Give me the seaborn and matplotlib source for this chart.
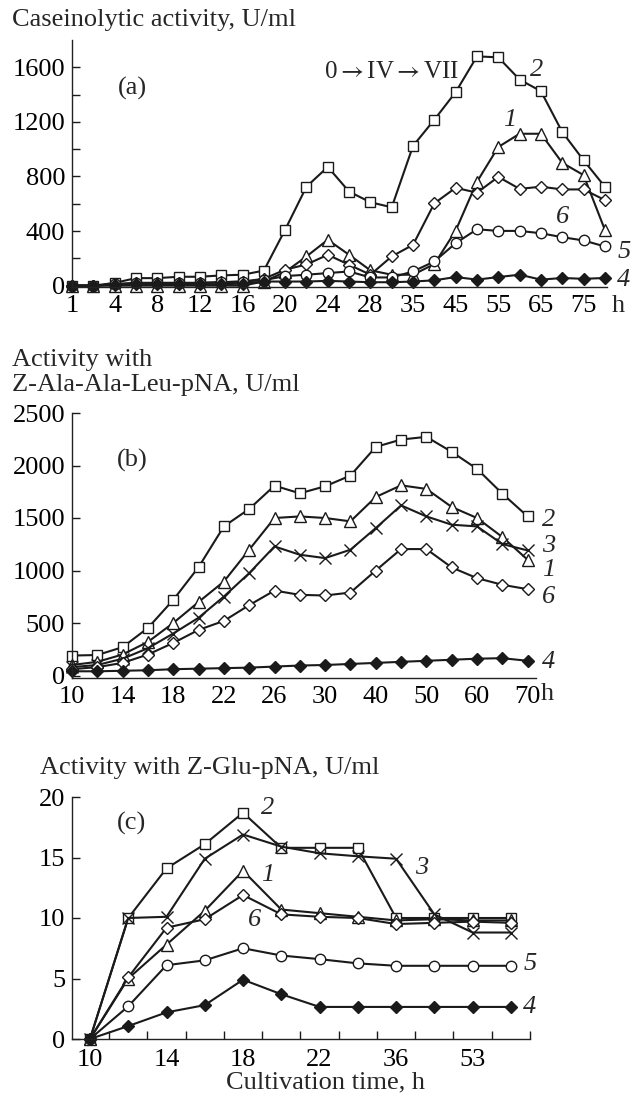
import matplotlib
matplotlib.use("Agg")
import matplotlib.pyplot as plt
import seaborn as sns
import numpy as np
import pandas as pd

# ---------------- data ----------------
# Panel (a): caseinolytic activity, U/ml
a_hours = [1, 2, 4, 6, 8, 10, 12, 14, 16, 18, 20, 22, 24, 26, 28, 30, 35, 40, 45, 50, 55, 60, 65, 70, 75, 80]
a_ticklabels = ["1", "4", "8", "12", "16", "20", "24", "28", "35", "45", "55", "65", "75"]
a_s2 = [0, 0, 20, 55, 55, 65, 65, 75, 80, 110, 410, 725, 870, 689, 611, 574, 1024, 1216, 1418, 1680, 1673, 1510, 1425, 1126, 919, 725]
a_s1 = [0, 0, 0, 0, 0, 0, 0, 0, 0, 30, 100, 214, 336, 226, 112, 80, 80, 158, 403, 761, 1016, 1113, 1113, 900, 810, 409]
a_s6 = [0, 0, 10, 20, 20, 20, 20, 25, 30, 50, 117, 155, 226, 153, 80, 214, 299, 603, 717, 681, 797, 709, 725, 705, 705, 627]
a_s5 = [0, 0, 10, 20, 20, 20, 20, 25, 30, 40, 70, 80, 92, 104, 60, 60, 104, 177, 311, 413, 401, 401, 384, 355, 331, 287]
a_s4 = [0, 0, 5, 10, 10, 10, 10, 10, 15, 30, 30, 30, 35, 30, 25, 25, 30, 39, 63, 44, 63, 80, 44, 56, 50, 56]

# Panel (b): activity with Z-Ala-Ala-Leu-pNA, U/ml
b_hours = [10, 12, 14, 16, 18, 20, 22, 24, 26, 28, 30, 35, 40, 45, 50, 55, 60, 65, 70]
b_ticklabels = ["10", "14", "18", "22", "26", "30", "40", "50", "60", "70"]
b_s2 = [190, 195, 270, 453, 720, 1032, 1420, 1586, 1808, 1735, 1802, 1904, 2177, 2247, 2273, 2130, 1968, 1732, 1515]
b_s1 = [100, 130, 200, 320, 500, 700, 895, 1198, 1500, 1515, 1500, 1468, 1700, 1811, 1777, 1605, 1500, 1319, 1102]
b_s3 = [80, 100, 160, 260, 400, 550, 752, 975, 1229, 1150, 1118, 1198, 1404, 1620, 1515, 1436, 1420, 1252, 1191]
b_s6 = [60, 80, 120, 200, 310, 434, 520, 670, 809, 768, 762, 790, 1000, 1204, 1204, 1029, 927, 864, 822]
b_s4 = [40, 40, 45, 50, 60, 65, 70, 75, 85, 95, 100, 110, 120, 130, 140, 150, 160, 165, 140]

# Panel (c): activity with Z-Glu-pNA, U/ml
c_hours = [10, 12, 14, 16, 18, 20, 22, 28, 36, 45, 53, 60]
c_ticklabels = ["10", "14", "18", "22", "36", "53"]
c_s2 = [0, 10.0, 14.1, 16.1, 18.7, 15.8, 15.8, 15.8, 10.0, 10.0, 10.0, 10.0]
c_s3 = [0, 10.0, 10.1, 14.9, 16.9, 15.9, 15.35, 15.1, 14.9, 10.3, 8.8, 8.8]
c_s1 = [0, 5.0, 7.8, 10.6, 13.9, 10.7, 10.4, 10.1, 9.8, 9.9, 9.8, 9.8]
c_s6 = [0, 5.1, 9.2, 9.9, 11.9, 10.3, 10.1, 10.0, 9.5, 9.6, 9.7, 9.6]
c_s5 = [0, 2.7, 6.1, 6.5, 7.5, 6.9, 6.6, 6.25, 6.05, 6.05, 6.05, 6.05]
c_s4 = [0, 1.07, 2.2, 2.8, 4.9, 3.7, 2.65, 2.65, 2.65, 2.65, 2.65, 2.65]

# ---------------- style ----------------
sns.set_theme(style="ticks")
serif = ["Liberation Serif", "DejaVu Serif"]
plt.rcParams["font.family"] = serif
plt.rcParams["mathtext.fontset"] = "stix"
plt.rcParams["axes.linewidth"] = 1.0
plt.rcParams["axes.edgecolor"] = "#222222"

W, H = 635, 1100
fig = plt.figure(figsize=(W / 100, H / 100), dpi=100, facecolor="white")

TICK_FS = 19
TITLE_FS = 19
LAB_FS = 19

def px_axes(l, t, r, b):
    return fig.add_axes([l / W, 1 - b / H, (r - l) / W, (b - t) / H])

def ftext(x, y, s, **kw):
    fig.text(x / W, 1 - y / H, s, **kw)

LC = "#1a1a1a"
styles = {
    "s": dict(marker="s", ms=7.5, mfc="white"),
    "^": dict(marker="^", ms=8, mfc="white"),
    "D": dict(marker="D", ms=6.5, mfc="white"),
    "o": dict(marker="o", ms=7.5, mfc="white"),
    "x": dict(marker="x", ms=8),
    "Df": dict(marker="D", ms=6.5, mfc=LC),
}

def draw(ax, values, key):
    df = pd.DataFrame({"x": np.arange(len(values)), "y": values})
    st = styles[key]
    sns.lineplot(data=df, x="x", y="y", ax=ax, color=LC, lw=1.5,
                 marker=st["marker"], markersize=st["ms"],
                 markerfacecolor=st.get("mfc", LC), markeredgecolor=LC,
                 markeredgewidth=1.0, estimator=None, sort=False, legend=False)

def base(ax):
    sns.despine(ax=ax)
    ax.set_xlabel("")
    ax.set_ylabel("")
    ax.set_facecolor("white")
    ax.tick_params(axis="both", which="both", direction="in", colors=LC,
                   labelcolor="black", labelsize=TICK_FS, width=1.0)
    ax.tick_params(axis="y", which="both", length=6, pad=5)

# ---------- panel (a) ----------
axa = px_axes(72, 40, 607, 287)
draw(axa, a_s2, "s")
draw(axa, a_s1, "^")
draw(axa, a_s6, "D")
draw(axa, a_s5, "o")
draw(axa, a_s4, "Df")
base(axa)
axa.set_xlim(0, 25.1)
axa.set_ylim(-10, 1800)
axa.set_yticks([0, 400, 800, 1200, 1600])
axa.set_yticks(np.arange(200, 1800, 400), minor=True)
axa.set_xticks(np.arange(0, 25, 2), a_ticklabels)
axa.tick_params(axis="x", which="both", length=0, pad=6)

ftext(12, 20, "Caseinolytic activity, U/ml", fontsize=TITLE_FS, va="center", ha="left")
ftext(132, 88, "(a)", fontsize=LAB_FS, va="center", ha="center")
ftext(391, 72, "0$\\rightarrow$IV$\\rightarrow$VII", fontsize=18, va="center", ha="center")
ftext(537, 70, "2", fontsize=LAB_FS, style="italic", va="center", ha="center")
ftext(510, 120, "1", fontsize=LAB_FS, style="italic", va="center", ha="center")
ftext(563, 217, "6", fontsize=LAB_FS, style="italic", va="center", ha="center")
ftext(624, 252, "5", fontsize=LAB_FS, style="italic", va="center", ha="center")
ftext(624, 280, "4", fontsize=LAB_FS, style="italic", va="center", ha="center")
ftext(618, 306, "h", fontsize=TICK_FS, va="center", ha="center")

# ---------- panel (b) ----------
axb = px_axes(72, 413, 536, 677.6)
draw(axb, b_s2, "s")
draw(axb, b_s1, "^")
draw(axb, b_s3, "x")
draw(axb, b_s6, "D")
draw(axb, b_s4, "Df")
base(axb)
axb.set_xlim(0, 18.33)
axb.set_ylim(-20, 2500)
axb.set_yticks([0, 500, 1000, 1500, 2000, 2500])
axb.set_xticks(np.arange(0, 19, 2), b_ticklabels)
axb.tick_params(axis="x", which="both", length=0, pad=6)

ftext(12, 360, "Activity with", fontsize=TITLE_FS, va="center", ha="left")
ftext(12, 385, "Z-Ala-Ala-Leu-pNA, U/ml", fontsize=TITLE_FS, va="center", ha="left")
ftext(132, 460, "(b)", fontsize=LAB_FS, va="center", ha="center")
ftext(549, 520, "2", fontsize=LAB_FS, style="italic", va="center", ha="center")
ftext(549, 546, "3", fontsize=LAB_FS, style="italic", va="center", ha="center")
ftext(549, 570, "1", fontsize=LAB_FS, style="italic", va="center", ha="center")
ftext(549, 597, "6", fontsize=LAB_FS, style="italic", va="center", ha="center")
ftext(549, 662, "4", fontsize=LAB_FS, style="italic", va="center", ha="center")
ftext(547, 694, "h", fontsize=TICK_FS, va="center", ha="center")

# ---------- panel (c) ----------
axc = px_axes(72, 797, 530, 1039)
draw(axc, c_s2, "s")
draw(axc, c_s3, "x")
draw(axc, c_s1, "^")
draw(axc, c_s6, "D")
draw(axc, c_s5, "o")
draw(axc, c_s4, "Df")
base(axc)
axc.set_xlim(-0.47, 11.5)
axc.set_ylim(0, 20)
axc.set_yticks([0, 5, 10, 15, 20])
axc.set_xticks(np.arange(0, 12, 2), c_ticklabels)
axc.set_xticks(np.arange(0.5, 12, 1), minor=True)
axc.tick_params(axis="x", which="major", length=0, pad=7)
axc.tick_params(axis="x", which="minor", length=6)
for a in (axa, axb, axc):
    for sp in a.spines.values():
        sp.set_clip_on(False)
    for line in a.lines:
        line.set_clip_on(False)

ftext(40, 768, "Activity with Z-Glu-pNA, U/ml", fontsize=TITLE_FS, va="center", ha="left")
ftext(132, 823, "(c)", fontsize=LAB_FS, va="center", ha="center")
ftext(268, 808, "2", fontsize=LAB_FS, style="italic", va="center", ha="center")
ftext(268, 875, "1", fontsize=LAB_FS, style="italic", va="center", ha="center")
ftext(255, 920, "6", fontsize=LAB_FS, style="italic", va="center", ha="center")
ftext(422, 868, "3", fontsize=LAB_FS, style="italic", va="center", ha="center")
ftext(530, 964, "5", fontsize=LAB_FS, style="italic", va="center", ha="center")
ftext(530, 1007, "4", fontsize=LAB_FS, style="italic", va="center", ha="center")
ftext(326, 1082, "Cultivation time, h", fontsize=TITLE_FS, va="center", ha="center")

fig.savefig("out.png", dpi=100, facecolor="white")
